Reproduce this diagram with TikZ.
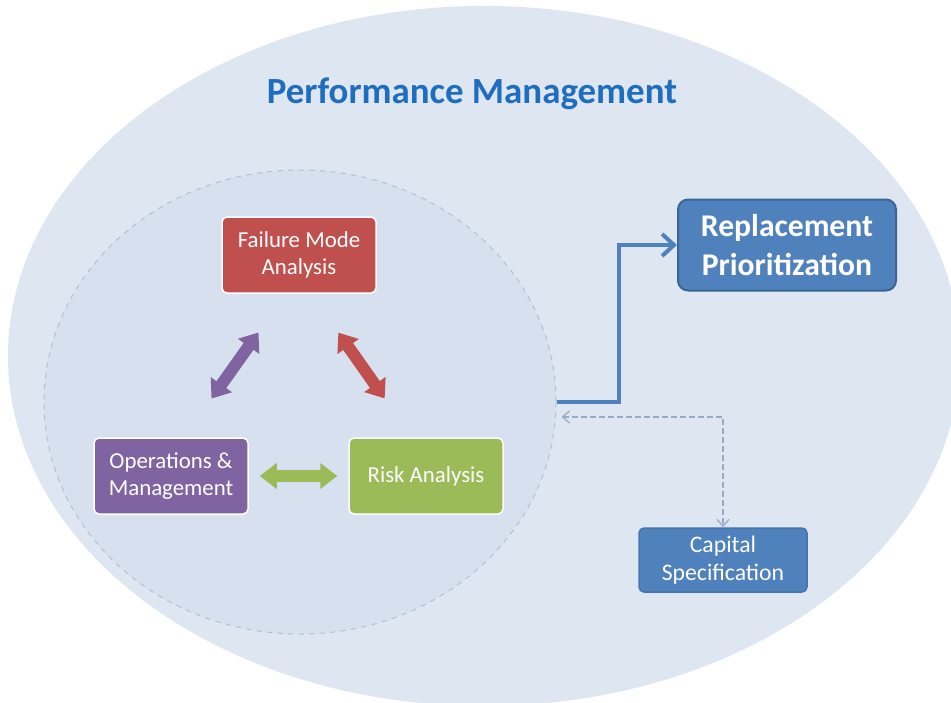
\documentclass[tikz,border=0pt]{standalone}
\usepackage{fontspec}
\setmainfont{Carlito}
\usetikzlibrary{arrows.meta,shapes.geometric,calc}

\definecolor{outerbg}{HTML}{DEE6F2}
\definecolor{innerbg}{HTML}{D6E0EE}
\definecolor{rimgray}{HTML}{B4C0D0}
\definecolor{fmared}{HTML}{C0504D}
\definecolor{opmpurple}{HTML}{8064A2}
\definecolor{riskgreen}{HTML}{9BBB59}
\definecolor{capblue}{HTML}{4F81BD}
\definecolor{capdark}{HTML}{3A6596}
\definecolor{titleblue}{HTML}{1F6DBF}
\definecolor{linkgray}{HTML}{98AAC4}

\tikzset{
  stage/.style={draw=white, line width=0.3mm, rounded corners=1mm, text=white, align=center,
    inner sep=0pt, minimum width=30.8mm, minimum height=15.2mm, font=\fontsize{13}{15.5}\selectfont},
  fatarrow/.style={line width=2.4mm, {Triangle[width=5mm,length=3.4mm]}-{Triangle[width=5mm,length=3.4mm]}},
  bluelink/.style={capblue, line width=0.8mm, -{Straight Barb[length=2.4mm,width=4.4mm]}},
  dashlink/.style={linkgray, line width=0.25mm, dash pattern=on 1.2mm off 0.6mm,
    {Straight Barb[length=1.4mm,width=2.4mm]}-{Straight Barb[length=1.4mm,width=2.4mm]}},
}

\begin{document}
\begin{tikzpicture}[x=0.2mm,y=-0.2mm]
  \useasboundingbox (0,0) rectangle (951,702);
  \clip (0,0) rectangle (951,702);
  % background
  \fill[outerbg] (484,356) ellipse [x radius=95.2mm, y radius=70mm];
  \node[ellipse, draw=rimgray, dashed, line width=0.2mm, fill=innerbg, minimum width=102.4mm,
    minimum height=92.8mm, inner sep=0pt] (core) at (300,402) {};
  \node[text=titleblue, font=\fontsize{21}{25}\selectfont\bfseries] (title) at (472,94) {Performance Management};

  % boxes
  \node[stage, fill=fmared] (fma) at (299,255) {Failure Mode\\Analysis};
  \node[stage, fill=opmpurple] (opm) at (171,476) {Operations \&\\Management};
  \node[stage, fill=riskgreen] (risk) at (426,476) {Risk Analysis};
  \node[stage, fill=capblue, draw=capblue!90!black, minimum width=33.6mm, minimum height=12.8mm,
    font=\fontsize{13.5}{16}\selectfont] (cap) at (723,560) {Capital\\Specification};
  \node[stage, fill=capblue, draw=capdark, line width=0.4mm, rounded corners=2mm, minimum width=43.6mm,
    minimum height=18.2mm, font=\fontsize{18}{22}\selectfont\bfseries] (repl) at (787,245) {Replacement\\Prioritization};

  % cycle
  \draw[fatarrow, opmpurple, shorten <=9.5mm, shorten >=9.5mm] ([xshift=2.6mm]opm.north) -- ([xshift=-2.6mm]fma.south);
  \draw[fatarrow, fmared, shorten <=9.5mm, shorten >=9.5mm] ([xshift=2.4mm]fma.south) -- ([xshift=-2.8mm]risk.north);
  \draw[fatarrow, riskgreen, shorten <=2.2mm, shorten >=2.2mm] (opm.east) -- (risk.west);

  % links
  \draw[bluelink] (core.east) -- ++(62,0) |- (repl.west);
  \draw[dashlink] ([shift={(1mm,-3mm)}]core.east) -| (cap.north);
\end{tikzpicture}
\end{document}
